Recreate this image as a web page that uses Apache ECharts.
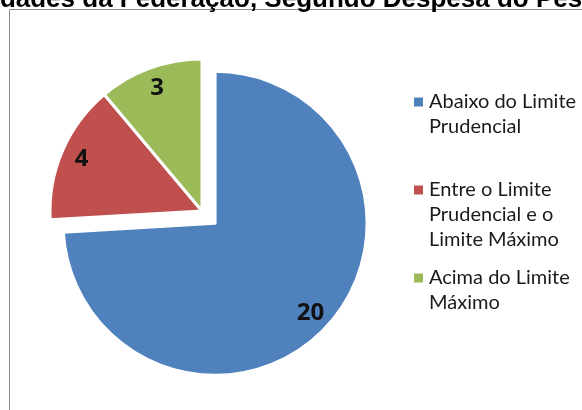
<!DOCTYPE html>
<html>
<head>
<meta charset="utf-8">
<script src="https://cdn.jsdelivr.net/npm/echarts@6/dist/echarts.min.js"></script>
<style>
  html, body { margin: 0; padding: 0; background: #fff; }
  #chart { width: 582px; height: 410px; }
</style>
</head>
<body>
<div id="chart"></div>
<script>
// dados do gráfico
var categorias = [
  'Abaixo do Limite\nPrudencial',
  'Entre o Limite\nPrudencial e o\nLimite Máximo',
  'Acima do Limite\nMáximo'
];
var valores = [20, 4, 3];
var cores = ['#4F81BD', '#C0504D', '#9BBB59'];
var titulo = 'Unidades da Federação, Segundo Despesa do Pessoal';

var myChart = echarts.init(document.getElementById('chart'));

// só a fatia azul fica destacada
var dados = categorias.map(function (nome, i) {
  return { name: nome, value: valores[i], selected: i === 0 };
});

var options = {
  backgroundColor: '#fff',
  animation: false,
  color: cores,
  title: {
    text: titulo,
    left: -47,
    top: -18.5,
    textStyle: {
      fontFamily: 'Liberation Sans',
      fontWeight: 'bold',
      fontSize: 26,
      color: '#000'
    }
  },
  graphic: [{
    type: 'rect',
    z: -1,
    shape: { x: 9.5, y: 9.5, width: 600, height: 420 },
    style: { fill: 'none', stroke: '#8c8c8c', lineWidth: 1 }
  }],
  legend: {
    orient: 'vertical',
    left: 412,
    top: 64.5,
    padding: 0,
    itemGap: -12,
    itemWidth: 11,
    itemHeight: 11,
    icon: 'rect',
    selectedMode: false,
    // linhas vazias antes do texto para o marcador ficar na primeira linha
    formatter: function (name) {
      var n = name.split('\n').length;
      return new Array(n).join('\n') + name;
    },
    textStyle: {
      fontFamily: 'Lato',
      fontSize: 20,
      lineHeight: 25,
      color: '#1a1a1a'
    }
  },
  series: [
    {
      name: 'fatias',
      type: 'pie',
      center: [202, 211],
      radius: 152,
      startAngle: 90,
      selectedMode: 'single',
      selectedOffset: 18,
      label: { show: false },
      labelLine: { show: false },
      emphasis: { disabled: true },
      itemStyle: { borderColor: '#fff', borderWidth: 3 },
      data: dados
    },
    {
      // série só para os rótulos, em ~0.84 do raio
      name: 'rotulos',
      type: 'pie',
      silent: true,
      center: [202, 211],
      radius: [104, 152],
      startAngle: 90,
      selectedMode: 'single',
      selectedOffset: 18,
      itemStyle: { color: 'rgba(0,0,0,0)', borderWidth: 0 },
      emphasis: { disabled: true },
      labelLine: { show: false },
      label: {
        show: true,
        position: 'inside',
        formatter: '{c}',
        fontFamily: 'Noto Sans',
        fontWeight: 'bold',
        fontSize: 24,
        color: '#111'
      },
      data: dados
    }
  ]
};

myChart.setOption(options);
</script>
</body>
</html>
